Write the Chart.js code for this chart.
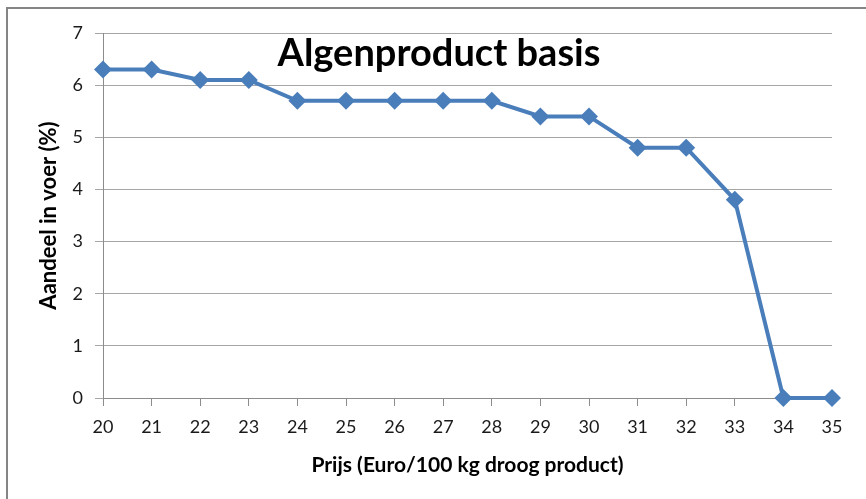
<!DOCTYPE html>
<html>
<head>
<meta charset="utf-8">
<script src="https://cdn.jsdelivr.net/npm/chart.js@4.4.1/dist/chart.umd.min.js"></script>
<style>
  html, body { margin: 0; padding: 0; background: #fff; }
  #wrap { position: relative; width: 866px; height: 499px; overflow: hidden; }
  #rand { position: absolute; left: 6px; top: 7px; width: 900px; height: 600px;
          border-left: 2px solid #858585; border-top: 2px solid #858585; }
  canvas { position: absolute; left: 0; top: 0; }
</style>
</head>
<body>
<div id="wrap">
  <div id="rand"></div>
  <canvas id="grafiek" width="866" height="499"></canvas>
</div>
<script>
// prijs in euro per 100 kg droog product
const prijzen = ['20', '21', '22', '23', '24', '25', '26', '27', '28', '29', '30', '31', '32', '33', '34', '35'];
// aandeel in voer (%)
const aandeel = [6.3, 6.3, 6.1, 6.1, 5.7, 5.7, 5.7, 5.7, 5.7, 5.4, 5.4, 4.8, 4.8, 3.8, 0, 0];
const titel = 'Algenproduct basis';
const yTitel = 'Aandeel in voer (%)';
const xTitel = 'Prijs (Euro/100 kg droog product)';

const lettertype = 'Lato, "Open Sans", sans-serif';

// titel staat in Excel binnen het plotgebied
const titelPlugin = {
    id: 'titelPlugin',
    afterDraw(chart) {
        let ctx = chart.ctx;
        ctx.save();
        ctx.font = 'bold 38px ' + lettertype;
        ctx.fillStyle = '#000';
        ctx.textAlign = 'center';
        ctx.textBaseline = 'alphabetic';
        ctx.fillText(titel, 439, 66);
        ctx.restore();
    }
};

let context = document.getElementById('grafiek').getContext('2d');
let grafiek = new Chart(context, {
    type: 'line',
    data: {
        labels: prijzen,
        datasets: [{
            label: titel,
            data: aandeel,
            borderColor: '#4a7ebb',
            backgroundColor: '#4a7ebb',
            borderWidth: 4,
            tension: 0,
            pointStyle: 'rectRot',
            pointRadius: 9,
            pointHoverRadius: 9,
            pointBorderWidth: 0,
            clip: false
        }]
    },
    options: {
        responsive: false,
        animation: false,
        layout: { padding: { left: 8, top: 33, right: 34, bottom: 0 } },
        plugins: {
            legend: { display: false },
            tooltip: { enabled: false },
            title: { display: false }
        },
        scales: {
            x: {
                offset: false,
                grid: { display: true, drawOnChartArea: false, drawTicks: true, tickLength: 8, color: '#8c8c8c' },
                border: { color: '#8c8c8c', width: 1 },
                ticks: { color: '#1a1a1a', padding: 10, font: { family: lettertype, size: 18 }, maxRotation: 0 },
                title: { display: true, text: xTitel, color: '#000', padding: { top: 0, bottom: 21 },
                         font: { family: lettertype, size: 21, weight: 'bold' } },
                afterFit(scale) { scale.height = 101; }
            },
            y: {
                min: 0,
                max: 7,
                grid: { color: '#a6a6a6', tickLength: 8, drawTicks: true },
                border: { color: '#8c8c8c', width: 1 },
                ticks: { stepSize: 1, color: '#1a1a1a', padding: 12, font: { family: lettertype, size: 18 } },
                title: { display: true, text: yTitel, color: '#000', padding: { top: 28, bottom: 0 },
                         font: { family: lettertype, size: 22, weight: 'bold' } },
                afterFit(scale) { scale.width = 95; }
            }
        }
    },
    plugins: [titelPlugin]
});
</script>
</body>
</html>
